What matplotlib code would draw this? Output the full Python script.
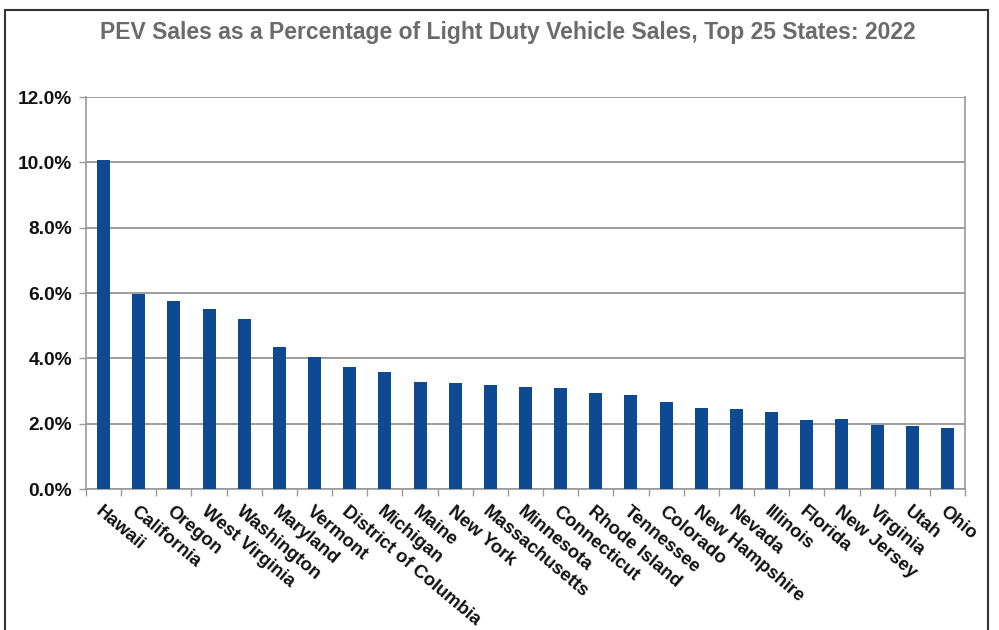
import matplotlib
matplotlib.use("Agg")
import matplotlib.pyplot as plt
from matplotlib.patches import Rectangle
from matplotlib.ticker import FuncFormatter

states = ["Hawaii", "California", "Oregon", "West Virginia", "Washington", "Maryland",
          "Vermont", "District of Columbia", "Michigan", "Maine", "New York",
          "Massachusetts", "Minnesota", "Connecticut", "Rhode Island", "Tennessee",
          "Colorado", "New Hampshire", "Nevada", "Illinois", "Florida", "New Jersey",
          "Virginia", "Utah", "Ohio"]
share = [10.07, 5.97, 5.76, 5.51, 5.20, 4.35, 4.04, 3.73, 3.58, 3.28, 3.24,
         3.18, 3.12, 3.08, 2.93, 2.87, 2.65, 2.47, 2.44, 2.37, 2.12, 2.15,
         1.96, 1.92, 1.88]
yticks = [0, 2, 4, 6, 8, 10, 12]
title = "PEV Sales as a Percentage of Light Duty Vehicle Sales, Top 25 States: 2022"

plt.rcParams['font.family'] = ['Liberation Sans', 'DejaVu Sans']

fig = plt.figure(figsize=(9.99, 6.3), dpi=100)
ax = fig.add_axes([86/999, 1-489/630, (965-86)/999, (489-97)/630])

x = list(range(len(states)))
ax.bar(x, share, width=0.37, color="#0d4a92", zorder=3)
ax.set_xlim(-0.5, len(states)-0.5)
ax.set_ylim(0, 12)
ax.set_yticks(yticks)
ax.yaxis.set_major_formatter(FuncFormatter(lambda v, p: f"{v:.1f}%"))
ax.grid(axis='y', color="#8c8c8c", linewidth=1.2, zorder=0)
ax.set_axisbelow(True)

ax.spines['top'].set_visible(False)
for s in ['left', 'right', 'bottom']:
    ax.spines[s].set_color("#9a9a9a")
    ax.spines[s].set_linewidth(1.2)

ax.set_xticks(x)
ax.set_xticklabels(states, rotation=-40, ha='left', va='top',
                   rotation_mode='anchor', fontsize=13.3, fontweight='bold',
                   color="#111111")
ax.set_xticks([i - 0.5 for i in range(len(states)+1)], minor=True)
ax.tick_params(axis='x', which='major', length=0, pad=10)
ax.tick_params(axis='x', which='minor', length=5, color="#9a9a9a", width=1)
ax.tick_params(axis='y', length=5, color="#9a9a9a", width=1, pad=5)
for lab in ax.get_yticklabels():
    lab.set_fontweight('bold')
    lab.set_fontsize(13.8)
    lab.set_color("#111111")

fig.text(508/999, 1-33/630, title, ha='center', va='center', fontsize=16.5,
         fontweight='bold', color="#6b6b6b")

fig.patches.append(Rectangle((5/999, -0.05), (988-5)/999, 1-10/630+0.05,
                             transform=fig.transFigure, fill=False,
                             edgecolor="#333333", linewidth=1.5))

fig.savefig("out.png", dpi=100)
